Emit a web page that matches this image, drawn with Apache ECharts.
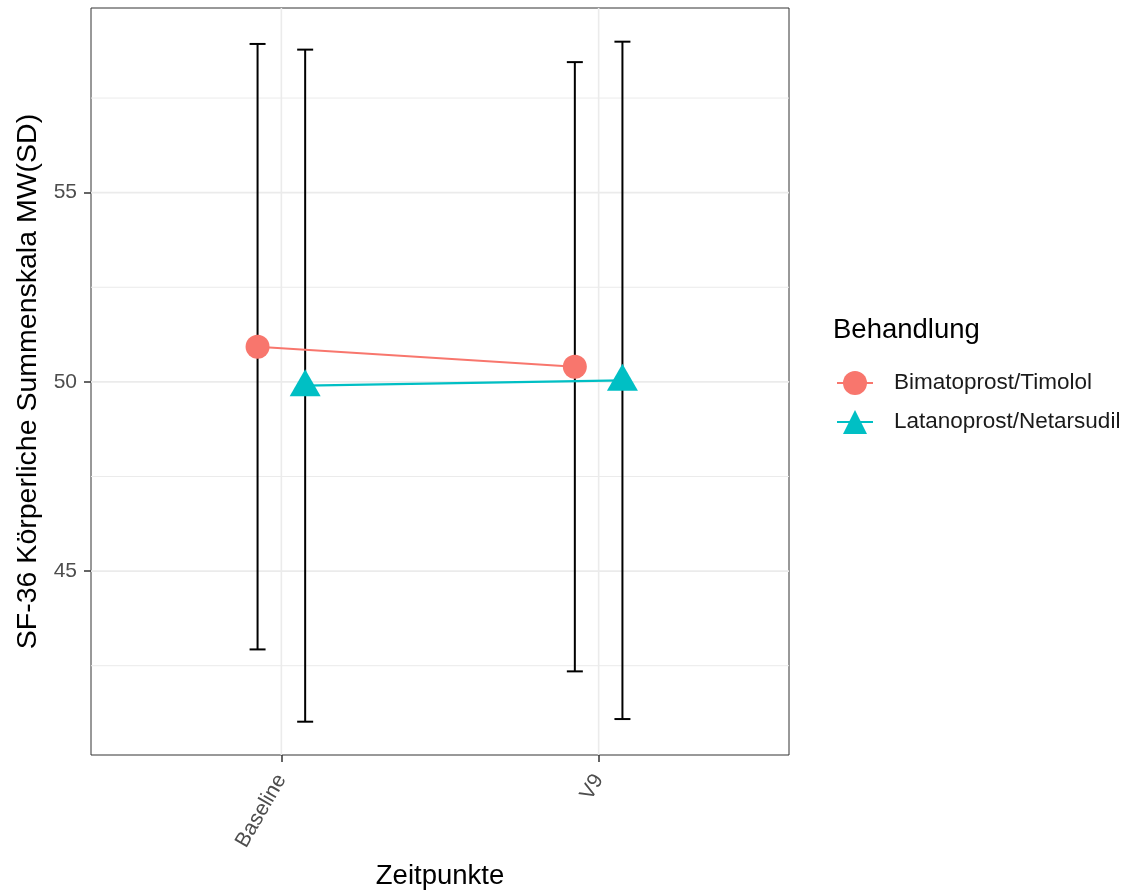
<!DOCTYPE html>
<html><head><meta charset="utf-8">
<script src="https://cdn.jsdelivr.net/npm/echarts@6/dist/echarts.min.js"></script>
<style>html,body{margin:0;padding:0;background:#fff}#c{width:1130px;height:896px}</style>
</head><body><div id="c"></div>
<script>
const categories = ['Baseline', 'V9'];
const seriesNames = ['Bimatoprost/Timolol', 'Latanoprost/Netarsudil'];
const seriesColors = ['#F8766D', '#00BFC4'];
const bimaMean = [50.93, 50.40];
const bimaSD = [8.00, 8.05];
const lataMean = [49.90, 50.04];
const lataSD = [8.88, 8.95];
const yTicks = [45, 50, 55];
const yMinorGrid = [42.5, 47.5, 52.5, 57.5];

const FONT = 'Liberation Sans, Arial, sans-serif';
const dodge = 0.075;
const means = [bimaMean, lataMean];
const sds = [bimaSD, lataSD];
const offsets = [-dodge, dodge];

function pts(k) {
  return categories.map((c, i) => [i + 1 + offsets[k], means[k][i]]);
}
function bars(k) {
  return categories.map((c, i) => [i + 1 + offsets[k], means[k][i] - sds[k][i], means[k][i] + sds[k][i]]);
}

const chart = echarts.init(document.getElementById('c'), null, {renderer: 'canvas'});

function hGrid(widthPx) {
  return function (params, api) {
    const cs = params.coordSys;
    const p = api.coord([1, api.value(0)]);
    return {type: 'line', silent: true,
      shape: {x1: cs.x, y1: p[1], x2: cs.x + cs.width, y2: p[1]},
      style: {stroke: '#ebebeb', lineWidth: widthPx}};
  };
}
function vGrid(params, api) {
  const cs = params.coordSys;
  const p = api.coord([api.value(0), 50]);
  return {type: 'line', silent: true,
    shape: {x1: p[0], y1: cs.y, x2: p[0], y2: cs.y + cs.height},
    style: {stroke: '#ebebeb', lineWidth: 1.6}};
}
function errRender(params, api) {
  const x = api.value(0), lo = api.value(1), hi = api.value(2);
  const t = api.coord([x, hi]), b = api.coord([x, lo]);
  const hw = 8;
  const st = {stroke: '#000', lineWidth: 2};
  return {type: 'group', children: [
    {type: 'line', shape: {x1: t[0], y1: t[1], x2: b[0], y2: b[1]}, style: st},
    {type: 'line', shape: {x1: t[0] - hw, y1: t[1], x2: t[0] + hw, y2: t[1]}, style: st},
    {type: 'line', shape: {x1: b[0] - hw, y1: b[1], x2: b[0] + hw, y2: b[1]}, style: st}
  ]};
}

const option = {
  backgroundColor: '#fff',
  animation: false,
  textStyle: {fontFamily: FONT},
  title: [{
    text: 'Behandlung', left: 828, top: 311,
    textStyle: {fontFamily: FONT, fontSize: 27.5, fontWeight: 'normal', color: '#000'}
  }],
  legend: {
    data: seriesNames,
    orient: 'vertical', left: 831, top: 366,
    itemWidth: 36, itemHeight: 30, itemGap: 15,
    textStyle: {fontFamily: FONT, fontSize: 22.5, color: '#1a1a1a', padding: [0, 0, 0, 16]}
  },
  grid: {left: 91, right: 341, top: 8, bottom: 141, show: true, borderColor: '#333', borderWidth: 1, backgroundColor: 'transparent'},
  xAxis: {
    type: 'value', min: 0.4, max: 2.6,
    name: 'Zeitpunkte', nameLocation: 'middle', nameGap: 107,
    nameTextStyle: {fontFamily: FONT, fontSize: 27.5, color: '#000'},
    axisLine: {show: false},
    splitLine: {show: false},
    axisTick: {show: true, customValues: categories.map((c, i) => i + 1), length: 7, lineStyle: {color: '#333', width: 1.5}},
    axisLabel: {customValues: categories.map((c, i) => i + 1), rotate: 60, margin: 21,
      formatter: v => categories[Math.round(v) - 1] || '',
      fontFamily: FONT, fontSize: 21, color: '#4d4d4d'}
  },
  yAxis: {
    type: 'value', min: 40.14, max: 59.88,
    name: 'SF-36 Körperliche Summenskala MW(SD)', nameLocation: 'middle', nameGap: 46,
    nameTextStyle: {fontFamily: FONT, fontSize: 28.5, color: '#000'},
    axisLine: {show: false},
    splitLine: {show: false},
    axisTick: {show: true, customValues: yTicks, length: 7, lineStyle: {color: '#333', width: 1.5}},
    axisLabel: {customValues: yTicks, margin: 14, fontFamily: FONT, fontSize: 21, color: '#4d4d4d'}
  },
  series: [
    {type: 'custom', z: 0, silent: true, data: yMinorGrid.map(v => [v]), renderItem: hGrid(1), encode: {y: 0}},
    {type: 'custom', z: 0, silent: true, data: yTicks.map(v => [v]), renderItem: hGrid(1.6), encode: {y: 0}},
    {type: 'custom', z: 0, silent: true, data: categories.map((c, i) => [i + 1]), renderItem: vGrid, encode: {x: 0}},
    {type: 'custom', z: 2, silent: true, data: bars(0), renderItem: errRender, encode: {x: 0, y: [1, 2]}},
    {type: 'custom', z: 2, silent: true, data: bars(1), renderItem: errRender, encode: {x: 0, y: [1, 2]}},
    {name: seriesNames[0], type: 'line', z: 3, data: pts(0), symbol: 'circle', symbolSize: 24,
      itemStyle: {color: seriesColors[0]}, lineStyle: {color: seriesColors[0], width: 2}},
    {name: seriesNames[1], type: 'line', z: 3, data: pts(1), symbol: 'triangle', symbolSize: [31, 27], symbolOffset: [0, -3],
      itemStyle: {color: seriesColors[1]}, lineStyle: {color: seriesColors[1], width: 2.2}}
  ]
};
chart.setOption(option);
</script>
</body></html>
